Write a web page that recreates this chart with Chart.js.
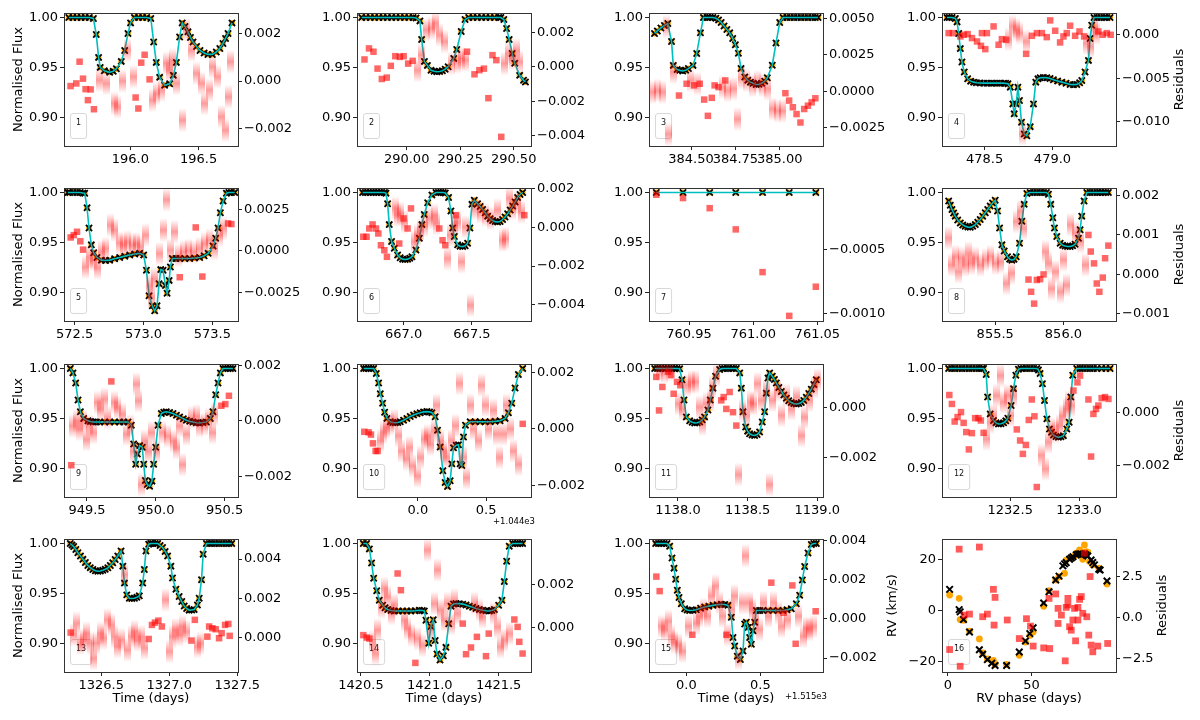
<!DOCTYPE html>
<html><head><meta charset="utf-8">
<script src="https://cdn.jsdelivr.net/npm/chart.js@4.4.0/dist/chart.umd.min.js"></script>
<style>html,body{margin:0;padding:0;background:#fff;width:1200px;height:720px;overflow:hidden;position:relative}canvas{position:absolute}</style>
</head><body>
<script>
// ---------------- DATA ----------------
const fluxTicks=[0.90,0.95,1.00];
// Panel 1
const p1XTicks=[196.0,196.5], p1RTicks=[-0.002,0,0.002];
const p1Model=[[195.55,1],[195.58,1],[195.61,1],[195.64,1],[195.67,1],[195.70,1],[195.73,0.999],[195.751,0.983],[195.768,0.960],[195.78,0.950],[195.81,0.9465],[195.849,0.945],[195.875,0.946],[195.898,0.9487],[195.934,0.956],[195.959,0.967],[195.983,0.984],[196.002,0.9946],[196.03,1],[196.06,1],[196.09,1],[196.12,1],[196.15,0.999],[196.171,0.9755],[196.19,0.955],[196.215,0.940],[196.251,0.932],[196.288,0.9336],[196.315,0.942],[196.337,0.955],[196.361,0.9805],[196.38,0.9946],[196.40,0.991],[196.422,0.9856],[196.44,0.980],[196.459,0.9755],[196.485,0.971],[196.51,0.967],[196.54,0.9645],[196.568,0.963],[196.60,0.963],[196.629,0.9654],[196.655,0.969],[196.678,0.974],[196.697,0.979],[196.715,0.984],[196.744,0.9946]];
const p1Res=[[195.563,-0.00021],[195.605,-0.0001],[195.629,0.00081],[195.654,0.0001],[195.673,-0.00034],[195.69,-0.0008],[195.71,-0.00035],[195.734,-0.00118],[196.039,-0.00069],[196.059,-0.00115],[196.08,0.00077],[196.105,0.0011],[196.141,0.00007]];
const p1Blur=[[195.776,0.00004],[195.824,-0.0001],[195.885,-0.00094],[195.91,-0.00108],[195.946,0.0],[195.983,0.0013],[196.02,0.00018],[196.166,-0.0008],[196.19,-0.00052],[196.227,-0.00038],[196.263,0.00074],[196.288,0.00046],[196.312,0.00088],[196.337,-0.0001],[196.385,-0.00164],[196.41,0.00215],[196.446,0.0013],[196.483,0.00032],[196.52,-0.0001],[196.544,-0.00094],[196.576,-0.00038],[196.605,0.0006],[196.641,0.00018],[196.666,-0.0015],[196.698,-0.00206],[196.715,-0.00066],[196.734,0.00081]];
// Panel 2
const p2XTicks=[290.0,290.25,290.5], p2RTicks=[-0.004,-0.002,0,0.002];
const p2Model=[[289.79,1],[289.81,1],[289.83,1],[289.85,1],[289.87,1],[289.89,1],[289.91,1],[289.93,1],[289.95,1],[289.97,1],[289.99,1],[290.01,1],[290.03,1],[290.044,0.9995],[290.062,0.9966],[290.07,0.978],[290.083,0.956],[290.097,0.952],[290.114,0.947],[290.128,0.9462],[290.141,0.9456],[290.154,0.9458],[290.167,0.9466],[290.18,0.9482],[290.194,0.9507],[290.22,0.959],[290.234,0.968],[290.255,0.986],[290.273,0.998],[290.29,1],[290.31,1],[290.33,1],[290.35,1],[290.37,1],[290.39,1],[290.41,1],[290.43,1],[290.44,1],[290.454,0.998],[290.467,0.989],[290.479,0.978],[290.493,0.964],[290.505,0.9541],[290.528,0.942],[290.546,0.937],[290.555,0.9354]];
const p2Res=[[289.803,0.00043],[289.824,0.00107],[289.845,0.00088],[289.864,-0.0001],[289.884,-0.0007],[289.907,-0.00062],[289.926,0.00006],[289.947,0.00062],[289.968,0.00058],[289.986,0.00062],[290.007,0.00019],[290.028,0.00035],[290.282,0.00088],[290.317,-0.00043],[290.34,-0.00019],[290.361,-0.0001],[290.382,-0.00181],[290.401,0.00068],[290.419,0.00039],[290.442,-0.00405]];
const p2Blur=[[290.053,-0.0002],[290.07,0.00068],[290.092,0.00214],[290.114,0.00224],[290.137,0.00253],[290.155,0.00185],[290.176,0.00146],[290.211,0.00019],[290.238,0.00029],[290.255,0.00049],[290.273,0.00039],[290.458,0.00019],[290.475,0.00078],[290.493,0.00049],[290.511,0.00097],[290.528,0.00029]];
// Panel 3
const p3XTicks=[384.5,384.75,385.0], p3RTicks=[-0.0025,0,0.0025,0.005];
const p3Model=[[384.294,0.984],[384.31,0.9865],[384.33,0.9895],[384.35,0.992],[384.369,0.994],[384.39,0.976],[384.40,0.952],[384.422,0.9478],[384.437,0.947],[384.453,0.9464],[384.47,0.947],[384.485,0.9488],[384.511,0.952],[384.532,0.964],[384.553,0.9846],[384.57,1],[384.591,1],[384.607,1],[384.623,1],[384.64,0.9992],[384.655,0.9976],[384.67,0.995],[384.686,0.9915],[384.702,0.988],[384.718,0.9846],[384.735,0.979],[384.75,0.9727],[384.767,0.9642],[384.782,0.9488],[384.803,0.9403],[384.82,0.937],[384.835,0.9352],[384.85,0.934],[384.867,0.9328],[384.883,0.933],[384.898,0.934],[384.915,0.9362],[384.93,0.9396],[384.958,0.9522],[384.979,0.9744],[385.0,0.9949],[385.019,1],[385.04,1],[385.06,1],[385.08,1],[385.10,1],[385.12,1],[385.14,1],[385.16,1],[385.18,1],[385.2,1],[385.216,1]];
const p3Res=[[384.432,-0.0003],[384.475,0.00051],[384.517,0.0004],[384.549,0.00051],[384.574,-0.00058],[384.595,-0.0017],[384.617,-0.00046],[384.633,0.0004],[384.655,0.00028],[384.693,0.00074],[385.032,-0.00014],[385.053,-0.00065],[385.074,-0.00111],[385.095,-0.00158],[385.117,-0.00216],[385.138,-0.00123],[385.159,-0.001],[385.18,-0.00077],[385.201,-0.00049]];
const p3Blur=[[384.284,-0.00007],[384.311,0.00005],[384.337,-0.00007],[384.364,0.00446],[384.375,-0.00297],[384.4,0.00132],[384.496,0.00074],[384.534,0.00051],[384.676,0.00028],[384.708,0.00005],[384.739,0.00016],[384.761,-0.00193],[384.782,0.00093],[384.814,0.00074],[384.845,0.0004],[384.877,0.00063],[384.904,0.0004],[384.93,0.00016],[384.962,-0.00123],[384.989,-0.00135],[385.015,-0.00135]];
// Panel 4
const p4XTicks=[478.5,479.0], p4RTicks=[-0.010,-0.005,0];
const p4Model=[[478.223,1],[478.24,1],[478.26,1],[478.284,0.999],[478.297,0.9956],[478.309,0.9839],[478.321,0.9688],[478.333,0.9554],[478.35,0.9453],[478.375,0.9386],[478.397,0.9362],[478.419,0.9352],[478.44,0.9346],[478.467,0.9344],[478.493,0.9342],[478.52,0.9342],[478.545,0.9342],[478.566,0.9342],[478.59,0.9342],[478.615,0.9342],[478.64,0.9342],[478.655,0.934],[478.672,0.9336],[478.689,0.9302],[478.708,0.9134],[478.718,0.9034],[478.733,0.9134],[478.745,0.9302],[478.757,0.9168],[478.772,0.895],[478.792,0.8832],[478.811,0.8815],[478.836,0.8906],[478.86,0.9134],[478.877,0.9352],[478.893,0.9385],[478.909,0.9396],[478.933,0.9398],[478.958,0.9396],[478.982,0.9388],[479.007,0.9376],[479.038,0.9364],[479.069,0.9352],[479.1,0.934],[479.13,0.9329],[479.155,0.9327],[479.179,0.9329],[479.2,0.9345],[479.216,0.9369],[479.24,0.9453],[479.265,0.957],[479.277,0.9789],[479.289,0.9923],[479.306,1],[479.33,1],[479.355,1],[479.38,1],[479.4,1],[479.424,1]];
const p4Res=[[478.235,0.00019],[478.267,0.00019],[478.321,-0.00019],[478.346,0],[478.375,0.00008],[478.407,-0.00038],[478.444,-0.00077],[478.473,-0.00127],[478.48,0.00019],[478.505,-0.00165],[478.517,0.00019],[478.566,0.00096],[478.603,-0.00115],[478.627,-0.0005],[478.659,-0.00058],[478.806,-0.00219],[478.848,-0.00012],[478.885,0.00019],[478.922,0.00019],[478.958,-0.00027],[478.983,0.00165],[479.02,0.00046],[479.056,-0.00088],[479.081,-0.00019],[479.105,0.00019],[479.13,0.00104],[479.167,-0.00012],[479.199,0.00038],[479.233,-0.00019],[479.338,0.00038],[479.37,0],[479.4,0.00019],[479.429,0]];
const p4Blur=[[478.676,-0.0005],[478.708,0.00096],[478.733,0.00058],[478.757,0.00019],[478.782,-0.01135],[478.811,-0.00077],[479.252,-0.00096],[479.277,-0.00135],[479.309,0.00077],[479.326,0.00019]];
// Panel 5
const p5XTicks=[572.5,573.0,573.5], p5RTicks=[-0.0025,0,0.0025];
const p5Model=[[572.45,1],[572.464,1],[572.49,1],[572.515,1],[572.54,1],[572.56,0.9995],[572.573,0.9993],[572.59,0.9847],[572.604,0.9644],[572.621,0.9475],[572.638,0.9397],[572.662,0.9349],[572.694,0.9322],[572.724,0.9318],[572.754,0.9322],[572.79,0.9335],[572.827,0.9349],[572.864,0.9362],[572.9,0.9373],[572.936,0.9383],[572.972,0.939],[573.001,0.9373],[573.021,0.922],[573.04,0.8966],[573.064,0.8864],[573.081,0.8814],[573.098,0.8864],[573.113,0.9085],[573.125,0.9227],[573.142,0.922],[573.159,0.9068],[573.171,0.899],[573.186,0.9119],[573.195,0.9254],[573.209,0.9339],[573.236,0.9339],[573.263,0.9339],[573.3,0.9339],[573.335,0.9339],[573.37,0.9343],[573.408,0.9349],[573.44,0.9366],[573.469,0.939],[573.505,0.9464],[573.524,0.9542],[573.541,0.9644],[573.558,0.9797],[573.578,0.9915],[573.602,0.9993],[573.62,1],[573.638,1],[573.662,1]];
const p5Res=[[572.471,0.00081],[572.493,0.00095],[572.517,0.00115],[572.541,0.00058],[572.561,0.00008],[573.263,-0.00157],[573.379,0.00141],[573.427,-0.00153],[573.614,0.00165],[573.638,0.00161]];
const p5Blur=[[572.58,-0.00097],[572.609,-0.00036],[572.64,-0.00052],[572.669,-0.00101],[572.694,-0.00006],[572.725,0.00014],[572.762,0.00155],[572.791,0.00125],[572.822,0.00048],[572.856,0.00034],[572.887,0.00054],[572.919,0.00034],[572.948,0.00044],[572.977,0.00024],[573.013,0.00095],[573.04,-0.00208],[573.057,-0.00278],[573.081,-0.00167],[573.117,-0.00016],[573.142,0.00125],[573.166,0.00306],[573.195,0.00004],[573.227,0.00115],[573.251,-0.00026],[573.287,-0.00006],[573.323,0.00004],[573.36,-0.00006],[573.408,0.00014],[573.444,0.00044],[573.481,0.00065],[573.517,0.00014],[573.553,0.00095],[573.582,0.00135]];
// Panel 6
const p6XTicks=[667.0,667.5], p6RTicks=[-0.004,-0.002,0,0.002];
const p6Model=[[666.7,1],[666.72,1],[666.74,1],[666.76,1],[666.78,1],[666.80,1],[666.82,1],[666.84,1],[666.86,1],[666.871,0.9993],[666.883,0.9888],[666.895,0.9678],[666.912,0.9508],[666.932,0.9441],[666.956,0.9373],[666.975,0.9345],[666.993,0.9332],[667.011,0.9328],[667.029,0.9332],[667.045,0.9342],[667.061,0.9356],[667.09,0.9424],[667.115,0.9542],[667.134,0.9678],[667.151,0.978],[667.176,0.9898],[667.207,0.9976],[667.237,1],[667.255,1],[667.273,1],[667.29,1],[667.305,0.9995],[667.329,0.9949],[667.346,0.9814],[667.359,0.9644],[667.371,0.9559],[667.395,0.9475],[667.413,0.9462],[667.432,0.9458],[667.45,0.9466],[667.468,0.9492],[667.485,0.9644],[667.5,0.9881],[667.517,0.9922],[667.541,0.9888],[667.56,0.986],[667.578,0.983],[667.597,0.9797],[667.615,0.9763],[667.633,0.9738],[667.651,0.9719],[667.67,0.9708],[667.688,0.9705],[667.706,0.971],[667.724,0.9729],[667.742,0.9755],[667.761,0.9786],[667.78,0.9825],[667.798,0.9864],[667.816,0.9905],[667.834,0.9949],[667.852,0.998],[667.871,1]];
const p6Res=[[666.705,-0.00048],[666.729,-0.00048],[666.749,-0.00005],[666.773,0.00016],[666.798,-0.00005],[666.815,-0.00031],[666.834,-0.00092],[666.859,-0.00118],[666.878,-0.00152],[666.968,-0.00083],[667.0,0.00047],[667.029,-0.00005],[667.054,0.00099],[667.261,-0.00005],[667.285,-0.00066],[667.305,-0.00092],[667.383,0.00064],[667.883,0.00064]];
const p6Blur=[[666.944,0.00099],[666.956,0.00064],[666.98,0.00073],[667.005,0.00029],[667.078,-0.00074],[667.102,-0.0004],[667.127,-0.00014],[667.151,0.00012],[667.188,0.00047],[667.224,0.00064],[667.237,0.00021],[667.322,-0.00161],[667.346,-0.0004],[667.371,0.00012],[667.395,0.00029],[667.42,-0.00178],[667.456,0.00003],[667.493,-0.00404],[667.529,0.00099],[667.566,0.00081],[667.602,0.00064],[667.639,0.00047],[667.688,0.0009],[667.724,-0.00066],[667.749,-0.00057],[667.773,0.00151],[667.798,0.00099],[667.834,0.00125],[667.859,0.00081]];
// Panel 7
const p7XTicks=[760.95,761.0,761.05], p7RTicks=[-0.001,-0.0005];
const p7Model=[[760.9245,1],[760.9453,1],[760.9661,1],[760.9864,1],[761.0073,1],[761.0281,1],[761.0488,1]];
const p7Res=[[760.9245,-0.000071],[760.9453,-0.000097],[760.9661,-0.000176],[760.9864,-0.000342],[761.0073,-0.000676],[761.0281,-0.001018],[761.0488,-0.00079]];
const p7Blur=[];
// Panel 8
const p8XTicks=[855.5,856.0], p8RTicks=[-0.001,0,0.001,0.002];
const p8Model=[[855.159,0.9915],[855.171,0.9872],[855.183,0.983],[855.195,0.9795],[855.207,0.9763],[855.225,0.9725],[855.244,0.9695],[855.262,0.9675],[855.28,0.9661],[855.3,0.9653],[855.317,0.9651],[855.335,0.9662],[855.354,0.9678],[855.372,0.9702],[855.39,0.9729],[855.408,0.9762],[855.427,0.9797],[855.445,0.983],[855.463,0.9864],[855.48,0.9895],[855.5,0.9922],[855.517,0.9814],[855.532,0.9644],[855.549,0.9475],[855.566,0.9414],[855.59,0.9356],[855.606,0.9332],[855.622,0.9322],[855.638,0.933],[855.654,0.9356],[855.678,0.9492],[855.695,0.9712],[855.712,0.9881],[855.732,0.999],[855.756,1],[855.78,1],[855.805,1],[855.83,1],[855.854,1],[855.875,1],[855.89,0.9983],[855.907,0.9881],[855.922,0.9746],[855.934,0.9644],[855.951,0.9559],[855.976,0.9492],[855.994,0.947],[856.012,0.9464],[856.03,0.9459],[856.049,0.9458],[856.067,0.9465],[856.085,0.9481],[856.11,0.9542],[856.122,0.9627],[856.134,0.9763],[856.151,0.9915],[856.171,1],[856.195,1],[856.22,1],[856.245,1],[856.268,1],[856.29,1],[856.31,1],[856.329,1]];
const p8Res=[[855.744,-0.00013],[855.763,-0.00044],[855.785,-0.00074],[855.805,-0.00014],[855.829,-0.00012],[855.854,0],[856.183,0.001],[856.2,0.00058],[856.224,0.00028],[856.244,-0.00023],[856.263,-0.00044],[856.288,-0.00008],[856.305,0.00041],[856.329,0.00073]];
const p8Blur=[[855.159,0.00092],[855.183,0.00024],[855.207,0.00045],[855.232,0.00007],[855.256,0.00041],[855.28,0.00024],[855.305,0.00054],[855.329,0.00028],[855.354,0.00041],[855.39,0.00024],[855.427,0.00037],[855.463,0.00045],[855.5,0.00028],[855.537,0.00032],[855.585,-0.00023],[855.622,0.00003],[855.659,0.00134],[855.683,0.0016],[855.707,0.00117],[855.866,0.00058],[855.89,0.00028],[855.915,-0.00036],[855.939,0.00007],[855.976,-0.00044],[856.0,0.00037],[856.024,-0.00027],[856.054,0.00126],[856.085,0.00105],[856.122,0.00083],[856.159,0.00024]];
// Panel 9
const p9XTicks=[949.5,950.0,950.5], p9RTicks=[-0.002,0,0.002];
const p9Model=[[949.379,1],[949.398,0.9956],[949.418,0.9854],[949.435,0.9685],[949.452,0.9566],[949.476,0.9498],[949.507,0.9475],[949.525,0.9468],[949.544,0.9464],[949.568,0.9464],[949.592,0.9464],[949.628,0.9464],[949.665,0.9464],[949.7,0.9464],[949.737,0.9464],[949.767,0.9464],[949.798,0.9464],[949.822,0.9431],[949.839,0.9244],[949.854,0.9041],[949.866,0.9142],[949.883,0.9227],[949.902,0.921],[949.912,0.9041],[949.924,0.8878],[949.938,0.8837],[949.955,0.882],[949.972,0.8871],[949.984,0.9041],[949.999,0.921],[950.016,0.9431],[950.04,0.9549],[950.058,0.9562],[950.076,0.9566],[950.1,0.9558],[950.125,0.9549],[950.15,0.9532],[950.173,0.9515],[950.2,0.9497],[950.222,0.9481],[950.246,0.947],[950.27,0.9464],[950.294,0.9456],[950.318,0.9454],[950.342,0.9458],[950.367,0.9464],[950.396,0.9498],[950.415,0.9566],[950.435,0.9736],[950.452,0.9854],[950.469,0.9956],[950.488,1],[950.505,1],[950.524,1],[950.542,1],[950.56,1]];
const p9Res=[[949.386,-0.0016],[949.677,0.00143],[950.476,0.00055],[950.505,0.00061],[950.531,0.00091]];
const p9Blur=[[949.398,-0.00018],[949.423,0],[949.447,-0.0003],[949.476,0],[949.495,-0.00067],[949.519,-0.00018],[949.549,-0.00042],[949.575,0.00067],[949.6,0.00042],[949.628,0.00079],[949.652,0.00012],[949.702,0.00067],[949.725,0.00048],[949.757,0.00024],[949.786,-0.00048],[949.815,-0.00018],[949.841,-0.00109],[949.858,0.00133],[949.877,0.00073],[949.895,-0.0023],[949.919,-0.00073],[949.944,-0.00109],[949.967,-0.00042],[950.003,-0.00109],[950.052,-0.00042],[950.088,-0.00055],[950.125,-0.00073],[950.15,-0.00097],[950.173,-0.00018],[950.193,-0.00158],[950.222,-0.00048],[950.258,0.00012],[950.294,0.00018],[950.318,-0.00018],[950.354,-0.00012],[950.386,0.00006],[950.41,-0.00042],[950.427,0.00024]];
// Panel 10 (times relative to 1044)
const p10XTicks=[0.0,0.5], p10RTicks=[-0.002,0,0.002];
const p10Model=[[-0.3976,1],[-0.38,1],[-0.361,1],[-0.343,1],[-0.3244,1],[-0.3049,0.9949],[-0.2878,0.9855],[-0.2756,0.9747],[-0.2585,0.9652],[-0.2439,0.9561],[-0.2268,0.95],[-0.2024,0.9466],[-0.184,0.9458],[-0.1659,0.9456],[-0.1476,0.9459],[-0.1293,0.9466],[-0.105,0.9482],[-0.0805,0.95],[-0.056,0.9518],[-0.0317,0.9534],[-0.007,0.9547],[0.0171,0.9557],[0.0415,0.9565],[0.0659,0.9568],[0.085,0.9565],[0.1024,0.9557],[0.1268,0.9517],[0.1439,0.9382],[0.1634,0.9213],[0.1829,0.8976],[0.2,0.8858],[0.2171,0.8818],[0.2366,0.8875],[0.2488,0.9044],[0.261,0.9206],[0.2805,0.923],[0.2976,0.9236],[0.3098,0.9044],[0.322,0.9027],[0.3341,0.9314],[0.3488,0.9432],[0.3829,0.9466],[0.42,0.9466],[0.4561,0.9466],[0.493,0.9466],[0.5293,0.9466],[0.566,0.947],[0.6024,0.9476],[0.639,0.95],[0.6634,0.9557],[0.6878,0.9652],[0.7122,0.9804],[0.7366,0.9939],[0.7683,1]];
const p10Res=[[-0.3927,-0.0001],[-0.361,-0.00012],[-0.3439,-0.0002],[-0.3293,-0.00051],[-0.3098,-0.00078],[-0.2951,-0.00078],[0.7683,0.00018]];
const p10Blur=[[-0.2756,-0.00042],[-0.2512,-0.00012],[-0.2268,0.00006],[-0.2024,0.00018],[-0.1732,0.0003],[-0.1415,-0.00024],[-0.1171,-0.00078],[-0.0854,-0.00107],[-0.061,-0.00066],[-0.0366,-0.00131],[-0.0024,-0.00167],[0.022,-0.00101],[0.0463,-0.00036],[0.0707,-0.00024],[0.0951,-0.00054],[0.122,-0.00006],[0.139,0.00084],[0.1634,-0.00042],[0.1878,-0.00078],[0.2122,-0.00101],[0.2488,-0.00042],[0.2732,0.00012],[0.3049,0.00161],[0.3341,-0.00101],[0.3585,-0.00173],[0.3829,0.00084],[0.4073,0],[0.4439,-0.00042],[0.4683,0.00155],[0.4927,0.00084],[0.5171,0],[0.5537,0.00066],[0.578,-0.00018],[0.5976,-0.00101],[0.6268,-0.00018],[0.6512,0.00084],[0.6756,0],[0.7,-0.00078],[0.7366,-0.00125]];
// Panel 11
const p11XTicks=[1138.0,1138.5,1139.0], p11RTicks=[-0.002,0];
const p11Model=[[1137.833,1],[1137.853,1],[1137.873,1],[1137.893,1],[1137.913,1],[1137.933,1],[1137.953,1],[1137.973,1],[1137.993,1],[1138.012,0.9997],[1138.029,0.9888],[1138.043,0.9685],[1138.06,0.9515],[1138.084,0.9475],[1138.102,0.9462],[1138.12,0.9454],[1138.138,0.9456],[1138.156,0.9464],[1138.174,0.9485],[1138.191,0.9515],[1138.215,0.9583],[1138.232,0.9685],[1138.251,0.9803],[1138.27,0.9922],[1138.299,0.999],[1138.317,1],[1138.335,1],[1138.36,1],[1138.383,1],[1138.4,1],[1138.419,1],[1138.443,0.9956],[1138.455,0.9803],[1138.467,0.9566],[1138.486,0.9414],[1138.5,0.9372],[1138.514,0.9346],[1138.532,0.9334],[1138.55,0.9329],[1138.568,0.9338],[1138.586,0.9363],[1138.605,0.9464],[1138.622,0.9566],[1138.634,0.9753],[1138.646,0.9905],[1138.658,0.9956],[1138.677,0.9922],[1138.692,0.989],[1138.706,0.9854],[1138.724,0.981],[1138.742,0.977],[1138.76,0.9735],[1138.778,0.9702],[1138.795,0.9676],[1138.813,0.9658],[1138.831,0.9648],[1138.849,0.9644],[1138.867,0.9648],[1138.885,0.9658],[1138.903,0.968],[1138.921,0.9712],[1138.939,0.975],[1138.957,0.9793],[1138.975,0.984],[1138.993,0.9888]];
const p11Res=[[1137.844,0.0012],[1137.864,-0.00013],[1137.888,0.0008],[1137.928,0.0014],[1137.952,0.00127],[1137.969,0.00053],[1137.993,0.001],[1138.017,0.00087],[1138.311,0.00027],[1138.328,0.0004],[1138.347,-0.00007],[1138.371,0.0006],[1138.395,-0.0002],[1138.419,-0.00073]];
const p11Blur=[[1137.868,0.00147],[1137.904,0.0014],[1137.94,0.00147],[1138.007,0.00013],[1138.036,-0.00007],[1138.065,0.00087],[1138.096,0.001],[1138.127,0.001],[1138.156,0],[1138.179,-0.00067],[1138.203,0.00013],[1138.232,0.00027],[1138.251,0.0008],[1138.275,0.00127],[1138.431,-0.00267],[1138.462,-0.00013],[1138.49,-0.00033],[1138.519,0.0002],[1138.543,0.00013],[1138.574,0.00093],[1138.598,0.00027],[1138.634,0.00067],[1138.658,-0.00307],[1138.682,0.00027],[1138.711,0.00067],[1138.742,-0.00033],[1138.778,0.00047],[1138.813,-0.00007],[1138.849,0.0004],[1138.885,-0.00113],[1138.909,-0.0004],[1138.945,0.00027],[1138.981,0.0008],[1139.005,0.00107]];
// Panel 12
const p12XTicks=[1232.5,1233.0], p12RTicks=[-0.002,0];
const p12Model=[[1232.053,1],[1232.075,1],[1232.1,1],[1232.125,1],[1232.15,1],[1232.175,1],[1232.2,1],[1232.225,1],[1232.25,1],[1232.275,1],[1232.295,1],[1232.307,1],[1232.326,0.9939],[1232.336,0.9714],[1232.355,0.9545],[1232.379,0.9478],[1232.397,0.9455],[1232.415,0.9444],[1232.433,0.9446],[1232.452,0.9455],[1232.468,0.9475],[1232.483,0.9502],[1232.507,0.963],[1232.524,0.9798],[1232.541,0.9933],[1232.56,0.9993],[1232.578,1],[1232.597,1],[1232.62,1],[1232.645,1],[1232.67,1],[1232.693,1],[1232.705,0.9985],[1232.717,0.9949],[1232.734,0.9848],[1232.749,0.968],[1232.766,0.9495],[1232.785,0.9394],[1232.8,0.936],[1232.814,0.9333],[1232.832,0.9318],[1232.85,0.931],[1232.868,0.9315],[1232.886,0.9327],[1232.911,0.9394],[1232.928,0.9461],[1232.94,0.9714],[1232.954,0.9933],[1232.983,1],[1233.007,1],[1233.031,1],[1233.055,1],[1233.08,1],[1233.104,1],[1233.13,1],[1233.164,1],[1233.195,1],[1233.225,1]];
const p12Res=[[1232.058,0.00068],[1232.077,0.00034],[1232.097,-0.00033],[1232.118,-0.00016],[1232.143,0.00003],[1232.162,-0.00038],[1232.181,-0.00073],[1232.2,-0.00139],[1232.222,-0.00077],[1232.246,-0.0002],[1232.27,-0.0002],[1232.287,-0.00029],[1232.307,-0.00076],[1232.548,-0.00063],[1232.572,-0.00105],[1232.592,-0.00156],[1232.614,-0.00122],[1232.635,-0.00027],[1232.657,0.00051],[1232.676,-0.00013],[1232.693,-0.00282],[1232.959,0.00085],[1232.988,0.00116],[1233.007,0.00142],[1233.068,0.00051],[1233.087,-0.00166],[1233.104,-0.00004],[1233.123,0.00015],[1233.14,0.00028],[1233.164,0.00056],[1233.188,0.0006],[1233.213,0.00053]];
const p12Blur=[[1232.326,-0.00099],[1232.355,-0.00035],[1232.379,-0.0001],[1232.403,0.00066],[1232.428,0.00142],[1232.452,0.00041],[1232.481,0.00066],[1232.505,-0.0001],[1232.524,0.00066],[1232.729,-0.00162],[1232.754,-0.00213],[1232.778,-0.00111],[1232.802,-0.00061],[1232.826,-0.00073],[1232.857,-0.00048],[1232.882,-0.0001],[1232.906,0.00015],[1232.925,0.00041],[1232.947,0.00028]];
// Panel 13
const p13XTicks=[1326.5,1327.0,1327.5], p13RTicks=[0,0.002,0.004];
const p13Model=[[1326.273,1],[1326.286,0.9985],[1326.298,0.9969],[1326.314,0.994],[1326.329,0.9908],[1326.348,0.9875],[1326.366,0.9841],[1326.384,0.981],[1326.402,0.978],[1326.42,0.9758],[1326.439,0.9739],[1326.458,0.9727],[1326.476,0.9722],[1326.494,0.9724],[1326.512,0.9732],[1326.53,0.9742],[1326.549,0.9756],[1326.567,0.978],[1326.585,0.9807],[1326.603,0.984],[1326.622,0.9875],[1326.646,0.9925],[1326.659,0.9773],[1326.671,0.9603],[1326.688,0.9485],[1326.707,0.9451],[1326.725,0.9448],[1326.744,0.9451],[1326.762,0.946],[1326.78,0.9475],[1326.805,0.9603],[1326.817,0.9739],[1326.829,0.9925],[1326.849,0.9993],[1326.864,1],[1326.878,1],[1326.897,1],[1326.915,1],[1326.933,0.998],[1326.951,0.9959],[1326.97,0.992],[1326.988,0.9875],[1327.012,0.9773],[1327.024,0.9654],[1327.049,0.9542],[1327.073,0.9468],[1327.092,0.9418],[1327.11,0.9373],[1327.128,0.9348],[1327.146,0.9332],[1327.165,0.9333],[1327.183,0.9339],[1327.207,0.9383],[1327.22,0.9451],[1327.237,0.9637],[1327.249,0.9892],[1327.273,1],[1327.295,1],[1327.317,1],[1327.34,1],[1327.366,1],[1327.39,1],[1327.415,1],[1327.437,1],[1327.459,1]];
const p13Res=[[1326.276,0.00024],[1326.849,-0.00009],[1326.873,0.00063],[1326.895,0.00075],[1326.92,0.00085],[1326.946,0.00055],[1327.163,-0.00017],[1327.188,0.00089],[1327.28,0.00003],[1327.293,0.00055],[1327.317,0.00046],[1327.341,0.00041],[1327.366,-0.00005],[1327.385,0.00021],[1327.41,0.00063],[1327.434,0.00068],[1327.444,0.00007]];
const p13Blur=[[1326.298,0.00012],[1326.322,0.00072],[1326.346,-0.00031],[1326.371,-0.00014],[1326.395,0.00021],[1326.42,-0.00031],[1326.444,-0.00108],[1326.468,-0.00031],[1326.493,0.00021],[1326.517,-0.00005],[1326.549,0.00089],[1326.573,0.00063],[1326.598,0.00003],[1326.622,-0.00048],[1326.646,-0.00014],[1326.671,0.0032],[1326.695,-0.00065],[1326.72,0.00003],[1326.744,0.00029],[1326.768,-0.00014],[1326.793,0.00003],[1326.817,-0.00056],[1326.976,0.00191],[1327.0,-0.00073],[1327.024,0.00003],[1327.049,0.00038],[1327.073,0.00012],[1327.098,0.00055],[1327.127,0.00029],[1327.207,-0.00048],[1327.232,-0.00031]];
// Panel 14
const p14XTicks=[1420.5,1421.0,1421.5], p14RTicks=[0,0.002];
const p14Model=[[1420.517,1],[1420.541,1],[1420.561,0.9946],[1420.577,0.9804],[1420.592,0.9652],[1420.614,0.9527],[1420.633,0.9432],[1420.657,0.9382],[1420.675,0.9355],[1420.694,0.9338],[1420.718,0.9328],[1420.742,0.9324],[1420.772,0.9324],[1420.803,0.9324],[1420.833,0.9324],[1420.863,0.9324],[1420.894,0.9326],[1420.924,0.9331],[1420.945,0.9328],[1420.96,0.9324],[1420.972,0.923],[1420.992,0.9],[1421.008,0.9169],[1421.025,0.9236],[1421.039,0.9027],[1421.052,0.8892],[1421.074,0.8831],[1421.098,0.8875],[1421.117,0.8959],[1421.137,0.9196],[1421.154,0.9372],[1421.172,0.9393],[1421.19,0.9399],[1421.215,0.9397],[1421.239,0.9392],[1421.263,0.9383],[1421.287,0.9372],[1421.311,0.936],[1421.335,0.9348],[1421.36,0.9338],[1421.384,0.9331],[1421.408,0.9326],[1421.432,0.9324],[1421.45,0.9328],[1421.469,0.9338],[1421.5,0.9382],[1421.524,0.9432],[1421.541,0.9618],[1421.558,0.9821],[1421.577,0.9973],[1421.602,1],[1421.62,1],[1421.638,1],[1421.656,1],[1421.674,1]];
const p14Res=[[1420.517,-0.00035],[1420.541,-0.00046],[1420.561,-0.00051],[1420.766,0.00249],[1420.79,0.00172],[1420.895,-0.00163],[1421.239,0.00018],[1421.263,-0.00123],[1421.299,-0.00092],[1421.342,-0.00043],[1421.408,-0.00132],[1421.428,-0.00028],[1421.614,0.00037],[1421.638,0.00003],[1421.65,-0.00066],[1421.674,-0.0012]];
const p14Blur=[[1420.585,-0.00066],[1420.604,-0.0012],[1420.621,-0.00012],[1420.646,0.00095],[1420.669,0.0018],[1420.694,0.00141],[1420.718,0.00065],[1420.742,0.00103],[1420.815,0.00034],[1420.839,-0.00005],[1420.864,-0.00035],[1420.911,-0.00051],[1420.948,-0.00082],[1420.984,0.00357],[1421.008,-0.00012],[1421.033,0.00111],[1421.057,0.00265],[1421.081,0.0008],[1421.106,0.00034],[1421.131,0.00111],[1421.155,0.00018],[1421.179,0.00126],[1421.203,0.00065],[1421.324,0.00111],[1421.36,0.0008],[1421.384,0.00049],[1421.462,0.00065],[1421.492,0.00003],[1421.516,-0.00089],[1421.541,-0.00058],[1421.577,-0.00028]];
// Panel 15 (times relative to 1515)
const p15XTicks=[0.0,0.5], p15RTicks=[-0.002,0,0.002,0.004];
const p15Model=[[-0.2072,1],[-0.188,1],[-0.1689,1],[-0.15,1],[-0.1306,1],[-0.1126,0.9973],[-0.0968,0.9854],[-0.0833,0.9753],[-0.0721,0.9641],[-0.0608,0.9532],[-0.0495,0.9458],[-0.0338,0.9397],[-0.0113,0.9346],[0.0056,0.9334],[0.0225,0.9329],[0.045,0.9331],[0.0676,0.9336],[0.096,0.935],[0.1239,0.9363],[0.152,0.9372],[0.1802,0.938],[0.208,0.9386],[0.2365,0.939],[0.259,0.9388],[0.2815,0.938],[0.3041,0.9261],[0.3153,0.9058],[0.3266,0.8973],[0.3446,0.8871],[0.3649,0.8837],[0.3829,0.8922],[0.3941,0.9193],[0.4054,0.921],[0.4167,0.9159],[0.4279,0.9058],[0.4392,0.899],[0.4505,0.9125],[0.4617,0.921],[0.473,0.9329],[0.4955,0.9329],[0.518,0.9329],[0.552,0.9329],[0.5856,0.9329],[0.62,0.9329],[0.6532,0.9329],[0.68,0.9335],[0.7095,0.9346],[0.7432,0.9397],[0.7658,0.9481],[0.7838,0.9634],[0.7995,0.9769],[0.8221,0.9905],[0.8446,0.999],[0.861,1],[0.8784,1]];
const p15Res=[[-0.2027,0.00216],[-0.1802,0.00142],[0.0405,-0.00081],[0.2703,-0.00081],[0.5743,0.00185],[0.6577,0.00031],[0.7162,0.00171],[0.7387,-0.00127],[0.8739,0.00039]];
const p15Blur=[[-0.1689,-0.00038],[-0.1464,-0.00055],[-0.1239,-0.00012],[-0.1014,-0.00089],[-0.0788,-0.0012],[-0.0563,-0.00132],[-0.027,-0.00166],[0.0113,-0.00038],[0.0676,-0.00021],[0.0901,0.00014],[0.1126,0.00048],[0.1396,0.00014],[0.1689,0.00117],[0.1982,0.00168],[0.2252,0.00082],[0.2477,0.00014],[0.277,-0.00081],[0.3041,0.00048],[0.3266,0.00117],[0.3491,-0.002],[0.3784,0.00082],[0.4009,0.00322],[0.4234,0.00082],[0.4459,0.00048],[0.4685,-0.00003],[0.4955,-0.00055],[0.518,0.00082],[0.5518,0.00014],[0.5856,0.00082],[0.6194,0.00031],[0.6419,-0.00038],[0.6869,-0.00003],[0.7545,0.00014],[0.7883,-0.00089],[0.8108,-0.00046],[0.8333,-0.00055],[0.8559,-0.00038]];
// Panel 16 (RV)
const p16XTicks=[0,50], p16YTicks=[-20,0,20], p16RTicks=[-2.5,0,2.5];
const p16Data=[[1.0,6.2],[6.7,4.9],[7.3,-3.4],[9.3,-3.7],[12.9,-7.9],[18.8,-11.0],[20.8,-16.5],[23.6,-18.8],[27.2,-19.4],[28.2,-21.0],[35.1,-21.0],[42.7,-17.4],[46.4,-12.2],[49.0,-9.6],[51.0,-8.3],[57.3,1.8],[60.5,7.9],[64.5,12.1],[66.5,13.4],[69.8,14.7],[70.8,19.9],[73.8,21.0],[75.8,21.5],[76.8,22.6],[78.8,23.9],[80.7,20.2],[81.7,25.8],[82.7,23.2],[83.7,23.0],[84.7,19.3],[86.7,18.0],[90.3,16.7],[95.2,10.5]];
const p16Model=[[1.0,8.4],[6.7,0.5],[7.3,-0.4],[9.3,-3.4],[12.9,-8.3],[18.8,-15.2],[20.8,-17.0],[23.6,-19.1],[26.2,-20.5],[28.2,-21.4],[35.1,-21.4],[42.7,-16.1],[46.4,-11.8],[49.0,-8.9],[51.0,-6.6],[57.3,3.1],[60.5,7.5],[64.5,12.1],[66.5,13.6],[68.8,17.6],[69.8,18.4],[70.8,18.9],[72.8,20.2],[73.8,20.7],[74.8,21.2],[76.8,21.9],[77.8,22.2],[78.8,22.3],[79.8,22.3],[81.7,22.3],[82.7,21.9],[83.7,21.5],[85.7,19.9],[86.7,18.9],[87.7,18.0],[90.3,16.3],[91.1,16.0],[95.2,11.7]];
const p16Res=[[6.7,4.18],[18.8,4.31],[1.0,-1.94],[7.3,-2.96],[9.7,0.16],[12.9,0.22],[20.8,0.06],[23.6,0.22],[27.2,1.73],[28.2,1.24],[27.6,-0.45],[35.5,-0.14],[42.7,-1.27],[47.0,-0.06],[49.4,-0.51],[51.0,-1.73],[57.3,-1.84],[60.9,-1.88],[60.5,1.18],[64.5,1.45],[65.9,0.57],[65.9,-0.35],[67.9,0.16],[70.2,-2.63],[70.8,0.63],[71.8,1.18],[71.8,0.78],[72.8,-0.55],[73.8,-0.76],[74.8,-0.14],[75.8,0.57],[76.4,-1.41],[77.8,0.63],[77.8,-0.14],[78.8,1.12],[79.8,1.29],[80.7,0.27],[81.7,3.94],[83.1,0.06],[84.3,-1.06],[85.1,2.51],[85.7,-1.67],[86.7,-2.08],[89.7,-1.73],[95.6,-1.57]];

// ---------------- PANELS ----------------
const panels=[
 {n:'1',c:0,r:0,model:p1Model,res:p1Res,blur:p1Blur,x:[195.515,196.788],xt:p1XTicks,xd:1,rr:[-0.00272,0.00285],rt:p1RTicks,rd:3},
 {n:'2',c:1,r:0,model:p2Model,res:p2Res,blur:p2Blur,x:[289.768,290.581],xt:p2XTicks,xd:2,rr:[-0.00458,0.00312],rt:p2RTicks,rd:3},
 {n:'3',c:2,r:0,model:p3Model,res:p3Res,blur:p3Blur,x:[384.263,385.244],xt:p3XTicks,xd:2,rr:[-0.00378,0.00539],rt:p3RTicks,rd:4},
 {n:'4',c:3,r:0,model:p4Model,res:p4Res,blur:p4Blur,x:[478.186,479.468],xt:p4XTicks,xd:1,rr:[-0.01277,0.0025],rt:p4RTicks,rd:3},
 {n:'5',c:0,r:1,model:p5Model,res:p5Res,blur:p5Blur,x:[572.4225,573.686],xt:p5XTicks,xd:1,rr:[-0.00419,0.00377],rt:p5RTicks,rd:4},
 {n:'6',c:1,r:1,model:p6Model,res:p6Res,blur:p6Blur,x:[666.659,667.932],xt:p6XTicks,xd:1,rr:[-0.00485,0.00205],rt:p6RTicks,rd:3},
 {n:'7',c:2,r:1,model:p7Model,res:p7Res,blur:p7Blur,x:[760.9188,761.0544],xt:p7XTicks,xd:2,rr:[-0.001058,-0.0000184],rt:p7RTicks,rd:4},
 {n:'8',c:3,r:1,model:p8Model,res:p8Res,blur:p8Blur,x:[855.11,856.385],xt:p8XTicks,xd:1,rr:[-0.00118,0.00219],rt:p8RTicks,rd:3},
 {n:'9',c:0,r:2,model:p9Model,res:p9Res,blur:p9Blur,x:[949.333,950.597],xt:p9XTicks,xd:1,rr:[-0.00275,0.00206],rt:p9RTicks,rd:3},
 {n:'10',c:1,r:2,model:p10Model,res:p10Res,blur:p10Blur,x:[-0.4463,0.829],xt:p10XTicks,xd:1,rr:[-0.00241,0.0023],rt:p10RTicks,rd:3,off:'+1.044e3'},
 {n:'11',c:2,r:2,model:p11Model,res:p11Res,blur:p11Blur,x:[1137.792,1139.041],xt:p11XTicks,xd:1,rr:[-0.00356,0.00171],rt:p11RTicks,rd:3},
 {n:'12',c:3,r:2,model:p12Model,res:p12Res,blur:p12Blur,x:[1232.005,1233.268],xt:p12XTicks,xd:1,rr:[-0.0032,0.00186],rt:p12RTicks,rd:3},
 {n:'13',c:0,r:3,model:p13Model,res:p13Res,blur:p13Blur,x:[1326.227,1327.505],xt:p13XTicks,xd:1,rr:[-0.00178,0.00503],rt:p13RTicks,rd:3},
 {n:'14',c:1,r:3,model:p14Model,res:p14Res,blur:p14Blur,x:[1420.471,1421.735],xt:p14XTicks,xd:1,rr:[-0.00205,0.00408],rt:p14RTicks,rd:3},
 {n:'15',c:2,r:3,model:p15Model,res:p15Res,blur:p15Blur,x:[-0.2523,0.9234],xt:p15XTicks,xd:1,rr:[-0.00271,0.00408],rt:p15RTicks,rd:3,off:'+1.515e3'},
 {n:'16',c:3,r:3,rv:true,x:[-3.57,100.6],xt:p16XTicks,xd:0,rr:[-3.31,4.80],rt:p16RTicks,rd:1}
];

// ---------------- RENDER ----------------
const COLS=[64,357,649,942], ROWS=[13,188,364,539], PW=174, PH=133, L=66, R=78, T=10, B=44;
const FONT='DejaVu Sans';
Chart.defaults.font.family=FONT; Chart.defaults.font.size=13; Chart.defaults.color='#000';
function fmt(v,d){return (v<-1e-12?'\u2212':'')+Math.abs(v).toFixed(d);}
const blurImg=(function(){const c=document.createElement('canvas');c.width=7;c.height=24;const g=c.getContext('2d');const gr=g.createLinearGradient(0,0,0,24);gr.addColorStop(0,'rgba(255,0,0,0)');gr.addColorStop(0.25,'rgba(255,0,0,0.2)');gr.addColorStop(0.5,'rgba(255,0,0,0.4)');gr.addColorStop(0.75,'rgba(255,0,0,0.2)');gr.addColorStop(1,'rgba(255,0,0,0)');g.fillStyle=gr;g.fillRect(0,0,7,24);return c;})();

function drawLegend(c,o){const a=c.chartArea,x=c.ctx;x.save();x.font='8px "'+FONT+'"';const tw=x.measureText(o.n).width;const w=tw+11,h=25;const bx=a.left+6.5,by=a.bottom-7.5-h;x.beginPath();if(x.roundRect)x.roundRect(bx,by,w,h,2.5);else x.rect(bx,by,w,h);x.fillStyle='rgba(255,255,255,0.8)';x.fill();x.strokeStyle='#d8d8d8';x.lineWidth=1;x.stroke();x.fillStyle='#111';x.textAlign='center';x.textBaseline='middle';x.fillText(o.n,bx+w/2,by+9.5);x.restore();}
const deco={id:'deco',
 beforeDatasetsDraw(c){c.$lg=false;},
 beforeDatasetDraw(c,a,o){if(!c.$lg&&a.meta.yAxisID==='y2'){drawLegend(c,o);c.$lg=true;}},
 afterDatasetsDraw(c,a,o){if(!c.$lg){drawLegend(c,o);c.$lg=true;}},
 afterDraw(c,a0,o){const a=c.chartArea,x=c.ctx;x.save();x.strokeStyle='#333';x.lineWidth=1;x.beginPath();const ty=Math.round(a.top)+0.5;x.moveTo(a.left,ty);x.lineTo(a.right,ty);x.stroke();
  x.fillStyle='#000';x.font='13px "'+FONT+'"';x.textAlign='center';x.textBaseline='middle';const cy=(a.top+a.bottom)/2;
  if(o.yl){x.save();x.translate(a.left-o.ylOff,cy);x.rotate(-Math.PI/2);x.fillText(o.yl,0,0);x.restore();}
  if(o.yr){x.save();x.translate(a.right+o.yrOff,cy);x.rotate(-Math.PI/2);x.fillText(o.yr,0,0);x.restore();}
  if(o.xl){x.fillText(o.xl,(a.left+a.right)/2,a.bottom+27);}
  if(o.off){x.font='8.5px "'+FONT+'"';x.textAlign='right';x.fillText(o.off,a.right+4,a.bottom+25);}
  x.restore();}
};
function axis(pos,range,vals,dec,fit){return {type:'linear',position:pos,min:range[0],max:range[1],
 afterBuildTicks(s){s.ticks=vals.map(v=>({value:v}));},afterFit:fit,
 ticks:{autoSkip:false,maxRotation:0,minRotation:0,padding:2,color:'#000',callback:(v)=>fmt(v,dec),font:{size:13}},
 grid:{drawOnChartArea:false,drawTicks:true,tickLength:4,color:'#222',lineWidth:1},
 border:{display:true,color:'#333',width:1}};}

panels.forEach(p=>{
 const cv=document.createElement('canvas');cv.width=L+PW+R;cv.height=T+PH+B;
 cv.style.left=(COLS[p.c]-L)+'px';cv.style.top=(ROWS[p.r]-T)+'px';document.body.appendChild(cv);
 let ds;
 if(p.rv){
  ds=[{data:p16Data,pointStyle:'circle',pointRadius:3.4,backgroundColor:'#FFA500',borderWidth:0,order:3,yAxisID:'y'},
      {data:p16Model,pointStyle:'crossRot',pointRadius:4.6,borderColor:'#000',borderWidth:2,order:2,yAxisID:'y'},
      {data:p16Res,pointStyle:'rect',pointRadius:4.8,backgroundColor:'rgba(255,0,0,0.65)',borderWidth:0,order:0,yAxisID:'y2'}];
 } else {
  ds=[{data:p.model,pointStyle:'circle',pointRadius:3,backgroundColor:'#FFA500',borderWidth:0,order:4,yAxisID:'y'},
      {data:p.model,pointStyle:'crossRot',pointRadius:4.4,borderColor:'#000',borderWidth:1.8,order:3,yAxisID:'y'},
      {data:p.model,showLine:true,pointRadius:0,borderColor:'#00BFBF',borderWidth:1.6,fill:false,order:2,yAxisID:'y'},
      {data:p.blur,pointStyle:blurImg,pointRadius:4,order:1,yAxisID:'y2'},
      {data:p.res,pointStyle:'rect',pointRadius:4.6,backgroundColor:'rgba(255,0,0,0.6)',borderWidth:0,order:0,yAxisID:'y2'}];
 }
 const yl=p.c===0?'Normalised Flux':(p.rv?'RV (km/s)':'');
 const yr=p.c===3?'Residuals':'';
 const xl=p.r===3?(p.rv?'RV phase (days)':'Time (days)'):'';
 new Chart(cv,{type:'scatter',data:{datasets:ds},
  options:{responsive:false,animation:false,events:[],layout:{padding:{top:T,left:0,right:0,bottom:0}},
   plugins:{legend:{display:false},tooltip:{enabled:false},
    deco:{n:p.n,yl:yl,ylOff:p.rv?49:45,yr:yr,yrOff:p.rv?47:64,xl:xl,off:p.off||''}},
   scales:{
    x:axis('bottom',p.x,p.xt,p.xd,s=>{s.height=B;}),
    y:p.rv?axis('left',[-23.93,28.13],p16YTicks,0,s=>{s.width=L;}):axis('left',[0.8712,1.0045],fluxTicks,2,s=>{s.width=L;}),
    y2:axis('right',p.rr,p.rt,p.rd,s=>{s.width=R;})
   }},
  plugins:[deco]});
});
</script>
</body></html>
